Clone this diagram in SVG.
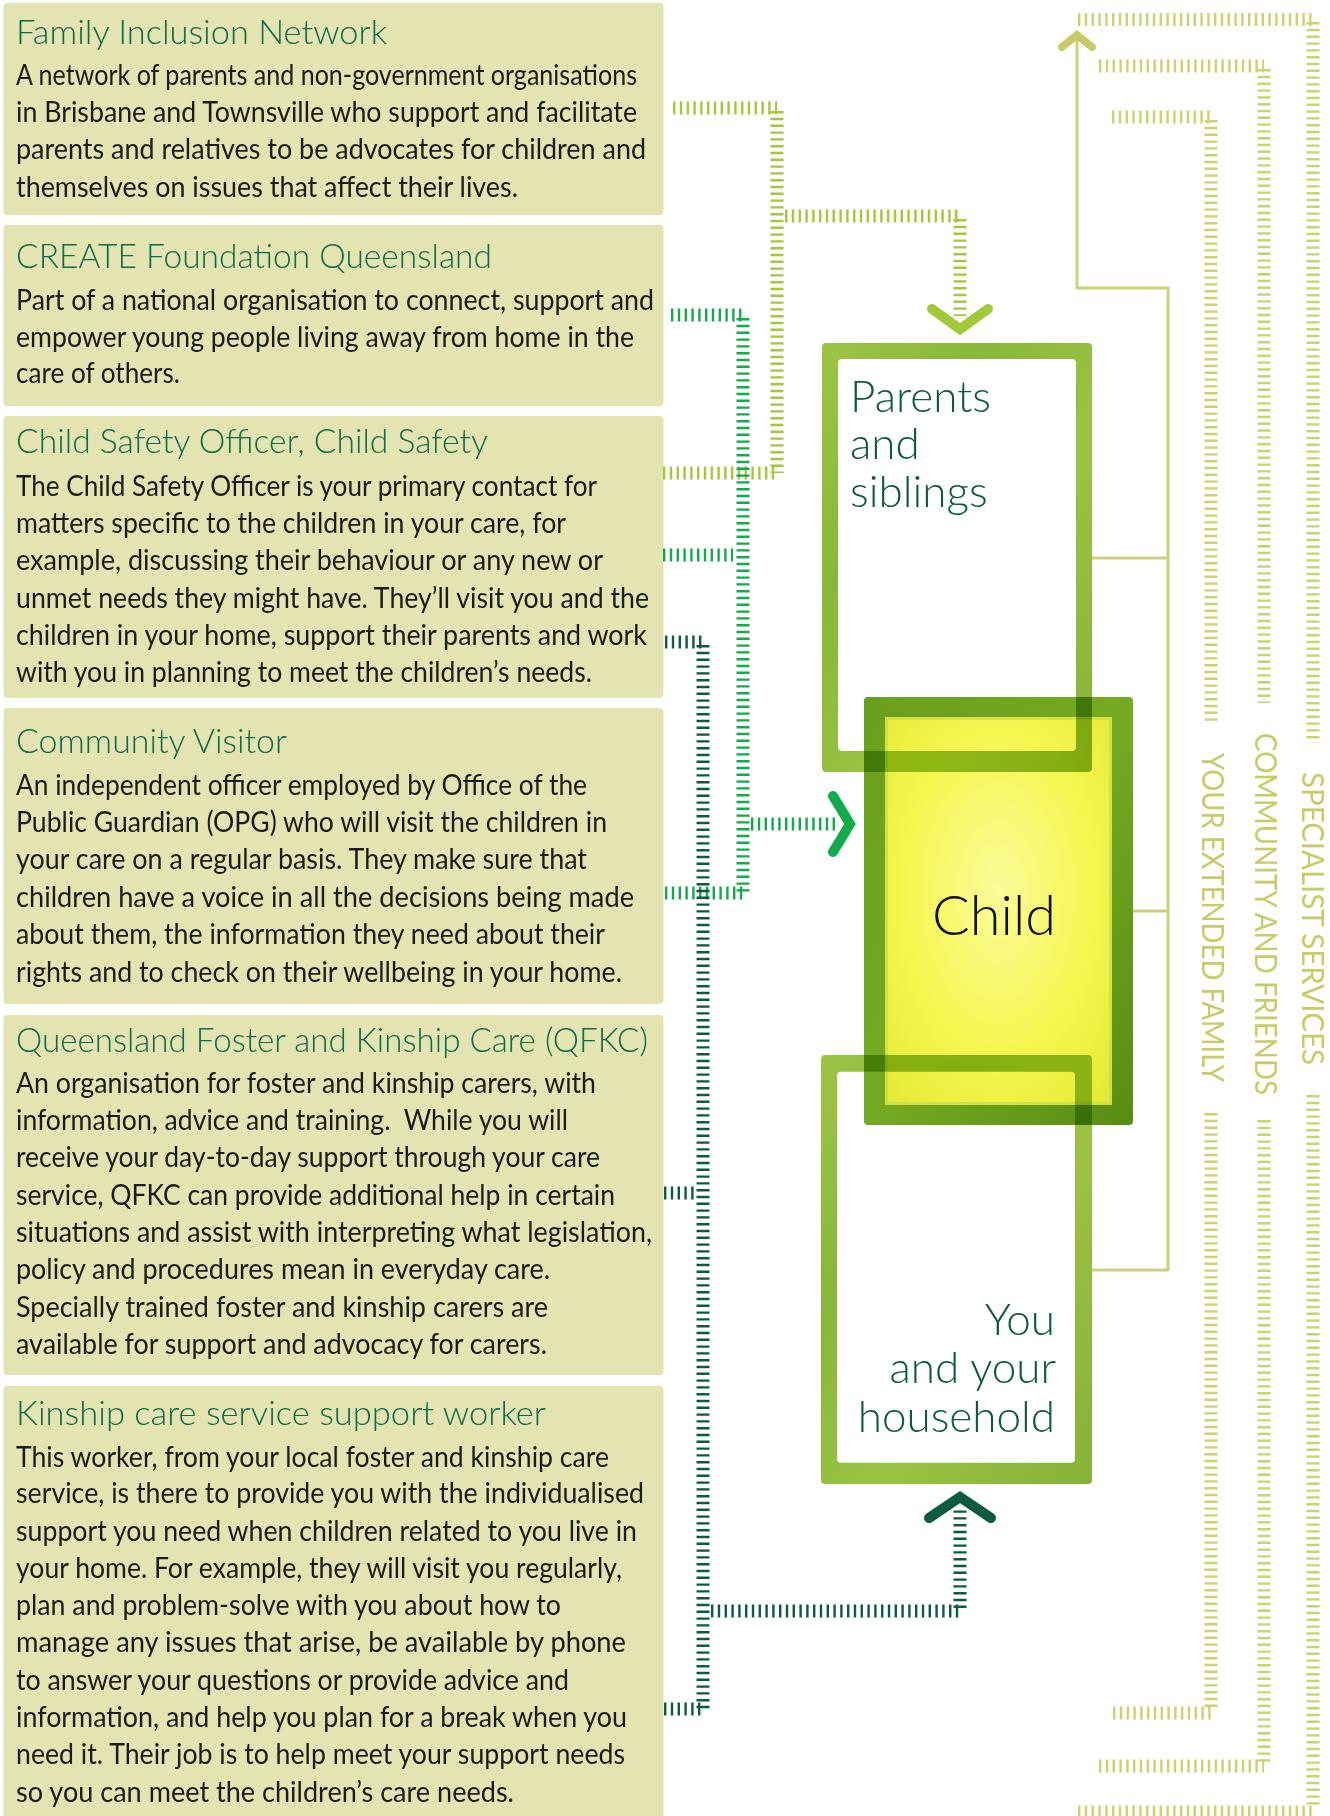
<svg xmlns="http://www.w3.org/2000/svg" width="1330" height="1816" viewBox="0 0 1330 1816">
<style>
.card{fill:#e3e4b1}
.ttl{font-family:Lato,"Open Sans","Liberation Sans",sans-serif;font-weight:300;font-size:34px;fill:#0e6a48}
.body{font-family:Lato,"Open Sans","Liberation Sans",sans-serif;font-size:28px;fill:#1b1b17}
.big{font-family:Lato,"Open Sans","Liberation Sans",sans-serif;font-weight:300;font-size:44px;fill:#0c5a3f}
.child{font-family:Lato,"Open Sans","Liberation Sans",sans-serif;font-weight:300;font-size:55px;fill:#111}
.side{font-family:Lato,"Open Sans","Liberation Sans",sans-serif;font-size:30px;fill:#cacb66}
.dl{fill:none;stroke-width:13;stroke-dasharray:2.4 4.4}
.ol{stroke:#cfd06e}
.lg{stroke:#a3c93a}
.mg{stroke:#12ab4b}
.dg{stroke:#0c5a3f}
.solid{fill:none;stroke:#cfd07a;stroke-width:3}
.chev{fill:none;stroke-linecap:round;stroke-linejoin:miter}
.frame{fill:url(#frameG);fill-rule:evenodd;mix-blend-mode:multiply}
</style>
<defs>
<linearGradient id="frameG" x1="0" y1="0" x2="1" y2="1">
<stop offset="0" stop-color="#9dc545"/>
<stop offset="0.3" stop-color="#8ab739"/>
<stop offset="0.6" stop-color="#9bc343"/>
<stop offset="1" stop-color="#86b237"/>
</linearGradient>
<linearGradient id="childFrame" x1="0" y1="0" x2="1" y2="1">
<stop offset="0" stop-color="#6a9e1c"/>
<stop offset="0.5" stop-color="#76aa22"/>
<stop offset="1" stop-color="#578d12"/>
</linearGradient>
<radialGradient id="childFill" cx="0.5" cy="0.45" r="0.75">
<stop offset="0" stop-color="#fbfb9a"/>
<stop offset="0.55" stop-color="#f6f650"/>
<stop offset="1" stop-color="#e3e832"/>
</radialGradient>
</defs>
<rect width="1330" height="1816" fill="#fff"/>

<g id="fin">
<rect class="card" x="3.5" y="3" width="660" height="212" rx="4"/>
<text class="ttl" x="16" y="44.3" textLength="371" lengthAdjust="spacingAndGlyphs">Family Inclusion Network</text>
<text class="body" x="16" y="85" textLength="621" lengthAdjust="spacingAndGlyphs">A network of parents and non-government organisations</text>
<text class="body" x="16" y="121.7" textLength="621" lengthAdjust="spacingAndGlyphs">in Brisbane and Townsville who support and facilitate</text>
<text class="body" x="16" y="159.3" textLength="630" lengthAdjust="spacingAndGlyphs">parents and relatives to be advocates for children and</text>
<text class="body" x="16" y="196.7" textLength="502" lengthAdjust="spacingAndGlyphs">themselves on issues that affect their lives.</text>
</g>

<g id="create">
<rect class="card" x="3.5" y="225" width="660" height="181" rx="4"/>
<text class="ttl" x="16" y="268.3" textLength="476" lengthAdjust="spacingAndGlyphs">CREATE Foundation Queensland</text>
<text class="body" x="16" y="310" textLength="638" lengthAdjust="spacingAndGlyphs">Part of a national organisation to connect, support and</text>
<text class="body" x="16" y="346.7" textLength="618" lengthAdjust="spacingAndGlyphs">empower young people living away from home in the</text>
<text class="body" x="16" y="383.3" textLength="164" lengthAdjust="spacingAndGlyphs">care of others.</text>
</g>

<g id="cso">
<rect class="card" x="3.5" y="416" width="660" height="282" rx="4"/>
<text class="ttl" x="16" y="453.3" textLength="472" lengthAdjust="spacingAndGlyphs">Child Safety Officer, Child Safety</text>
<text class="body" x="16" y="496" textLength="581" lengthAdjust="spacingAndGlyphs">The Child Safety Officer is your primary contact for</text>
<text class="body" x="16" y="533.3" textLength="550" lengthAdjust="spacingAndGlyphs">matters specific to the children in your care, for</text>
<text class="body" x="16" y="570" textLength="587" lengthAdjust="spacingAndGlyphs">example, discussing their behaviour or any new or</text>
<text class="body" x="16" y="608.3" textLength="633" lengthAdjust="spacingAndGlyphs">unmet needs they might have. They’ll visit you and the</text>
<text class="body" x="16" y="645" textLength="631" lengthAdjust="spacingAndGlyphs">children in your home, support their parents and work</text>
<text class="body" x="16" y="681.7" textLength="576" lengthAdjust="spacingAndGlyphs">with you in planning to meet the children’s needs.</text>
</g>

<g id="visitor">
<rect class="card" x="3.5" y="708" width="660" height="296" rx="4"/>
<text class="ttl" x="16" y="753.3" textLength="271" lengthAdjust="spacingAndGlyphs">Community Visitor</text>
<text class="body" x="16" y="795" textLength="571" lengthAdjust="spacingAndGlyphs">An independent officer employed by Office of the</text>
<text class="body" x="16" y="831.7" textLength="591" lengthAdjust="spacingAndGlyphs">Public Guardian (OPG) who will visit the children in</text>
<text class="body" x="16" y="869.3" textLength="571" lengthAdjust="spacingAndGlyphs">your care on a regular basis. They make sure that</text>
<text class="body" x="16" y="906.7" textLength="618" lengthAdjust="spacingAndGlyphs">children have a voice in all the decisions being made</text>
<text class="body" x="16" y="944.3" textLength="589" lengthAdjust="spacingAndGlyphs">about them, the information they need about their</text>
<text class="body" x="16" y="981.7" textLength="606" lengthAdjust="spacingAndGlyphs">rights and to check on their wellbeing in your home.</text>
</g>

<g id="qfkc">
<rect class="card" x="3.5" y="1015" width="660" height="360" rx="4"/>
<text class="ttl" x="16" y="1051.7" textLength="632" lengthAdjust="spacingAndGlyphs">Queensland Foster and Kinship Care (QFKC)</text>
<text class="body" x="16" y="1093.3" textLength="580" lengthAdjust="spacingAndGlyphs">An organisation for foster and kinship carers, with</text>
<text class="body" x="16" y="1130" textLength="552" lengthAdjust="spacingAndGlyphs" xml:space="preserve">information, advice and training.  While you will</text>
<text class="body" x="16" y="1167.3" textLength="584" lengthAdjust="spacingAndGlyphs">receive your day-to-day support through your care</text>
<text class="body" x="16" y="1205" textLength="599" lengthAdjust="spacingAndGlyphs">service, QFKC can provide additional help in certain</text>
<text class="body" x="16" y="1242.3" textLength="636" lengthAdjust="spacingAndGlyphs">situations and assist with interpreting what legislation,</text>
<text class="body" x="16" y="1279.3" textLength="534" lengthAdjust="spacingAndGlyphs">policy and procedures mean in everyday care.</text>
<text class="body" x="16" y="1316.7" textLength="532" lengthAdjust="spacingAndGlyphs">Specially trained foster and kinship carers are</text>
<text class="body" x="16" y="1354" textLength="531" lengthAdjust="spacingAndGlyphs">available for support and advocacy for carers.</text>
</g>

<g id="kinship">
<rect class="card" x="3.5" y="1386" width="660" height="440" rx="4"/>
<text class="ttl" x="16" y="1425" textLength="530" lengthAdjust="spacingAndGlyphs">Kinship care service support worker</text>
<text class="body" x="16" y="1466.7" textLength="593" lengthAdjust="spacingAndGlyphs">This worker, from your local foster and kinship care</text>
<text class="body" x="16" y="1503.3" textLength="628" lengthAdjust="spacingAndGlyphs">service, is there to provide you with the individualised</text>
<text class="body" x="16" y="1541" textLength="621" lengthAdjust="spacingAndGlyphs">support you need when children related to you live in</text>
<text class="body" x="16" y="1578.3" textLength="606" lengthAdjust="spacingAndGlyphs">your home. For example, they will visit you regularly,</text>
<text class="body" x="16" y="1615" textLength="545" lengthAdjust="spacingAndGlyphs">plan and problem-solve with you about how to</text>
<text class="body" x="16" y="1652.3" textLength="610" lengthAdjust="spacingAndGlyphs">manage any issues that arise, be available by phone</text>
<text class="body" x="16" y="1690" textLength="553" lengthAdjust="spacingAndGlyphs">to answer your questions or provide advice and</text>
<text class="body" x="16" y="1726.7" textLength="611" lengthAdjust="spacingAndGlyphs">information, and help you plan for a break when you</text>
<text class="body" x="16" y="1764.3" textLength="609" lengthAdjust="spacingAndGlyphs">need it. Their job is to help meet your support needs</text>
<text class="body" x="16" y="1801.7" textLength="498" lengthAdjust="spacingAndGlyphs">so you can meet the children’s care needs.</text>
</g>

<g id="connectors">
<path class="solid" d="M1077 40 V288 H1168 V1271"/>
<path class="solid" d="M1092 558 H1168 M1133 911 H1168 M1092 1270 H1168"/>
<path class="chev" stroke="#c9cb68" stroke-width="8" d="M1062 47 L1077 35 L1092 47"/>

<line class="dl ol" x1="1078" y1="19.5" x2="1313" y2="19.5"/>
<line class="dl ol" x1="1313" y1="22" x2="1313" y2="743"/>
<line class="dl ol" x1="1313" y1="1095" x2="1313" y2="1809"/>
<line class="dl ol" x1="1078" y1="1812" x2="1313" y2="1812"/>

<line class="dl ol" x1="1099" y1="66" x2="1264" y2="66"/>
<line class="dl ol" x1="1264" y1="69" x2="1264" y2="703"/>
<line class="dl ol" x1="1264" y1="1120" x2="1264" y2="1763"/>
<line class="dl ol" x1="1099" y1="1766" x2="1264" y2="1766"/>

<line class="dl ol" x1="1112" y1="117" x2="1211" y2="117"/>
<line class="dl ol" x1="1211" y1="120" x2="1211" y2="725"/>
<line class="dl ol" x1="1211" y1="1113" x2="1211" y2="1710"/>
<line class="dl ol" x1="1113" y1="1713" x2="1211" y2="1713"/>

<line class="dl lg" x1="673" y1="108" x2="777" y2="108"/>
<line class="dl lg" x1="777" y1="111" x2="777" y2="473"/>
<line class="dl lg" x1="663" y1="473" x2="777" y2="473"/>
<line class="dl lg" x1="785" y1="216" x2="960" y2="216"/>
<line class="dl lg" x1="960" y1="219" x2="960" y2="316"/>
<path class="chev" stroke="#a3c93a" stroke-width="10" d="M932 309 L960 329 L988 309"/>

<line class="dl mg" x1="671" y1="315" x2="743" y2="315"/>
<line class="dl mg" x1="743" y1="318" x2="743" y2="893"/>
<line class="dl mg" x1="663" y1="555" x2="733" y2="555"/>
<line class="dl mg" x1="665" y1="893" x2="743" y2="893"/>
<line class="dl mg" x1="751" y1="824" x2="838" y2="824"/>
<path class="chev" stroke="#12ab4b" stroke-width="10" d="M833 796 L850 824 L833 852"/>

<line class="dl dg" x1="665" y1="642" x2="703" y2="642"/>
<line class="dl dg" x1="703" y1="645" x2="703" y2="1709"/>
<line class="dl dg" x1="664" y1="1193" x2="697" y2="1193"/>
<line class="dl dg" x1="664" y1="1709" x2="703" y2="1709"/>
<line class="dl dg" x1="711" y1="1611" x2="960" y2="1611"/>
<line class="dl dg" x1="960" y1="1608" x2="960" y2="1510"/>
<path class="chev" stroke="#0c5a3f" stroke-width="10" d="M929 1518 L960 1497 L991 1518"/>
</g>

<g id="labels">
<text class="side" transform="translate(1202,753) rotate(90)" textLength="329" lengthAdjust="spacingAndGlyphs">YOUR EXTENDED FAMILY</text>
<text class="side" transform="translate(1255,733) rotate(90)" textLength="362" lengthAdjust="spacingAndGlyphs">COMMUNITY AND FRIENDS</text>
<text class="side" transform="translate(1302,772) rotate(90)" textLength="293" lengthAdjust="spacingAndGlyphs">SPECIALIST SERVICES</text>
</g>

<rect x="838" y="359" width="238" height="392" rx="4" fill="#fff"/>
<rect x="837" y="1071.7" width="238" height="391" rx="4" fill="#fff"/>

<g id="child">
<rect x="864" y="697" width="269" height="428" rx="4" fill="url(#childFrame)"/>
<rect x="885" y="717" width="227" height="388" fill="url(#childFill)"/>
<rect x="886.5" y="718.5" width="224" height="385" fill="none" stroke="#c8dc46" stroke-width="3" opacity="0.7"/>
<text class="child" x="932" y="935" textLength="124" lengthAdjust="spacingAndGlyphs">Child</text>
</g>

<g id="parents">
<path class="frame" d="M826 343 H1088 Q1092 343 1092 347 V768 Q1092 772 1088 772 H826 Q822 772 822 768 V347 Q822 343 826 343 Z M842 359 Q838 359 838 363 V747 Q838 751 842 751 H1072 Q1076 751 1076 747 V363 Q1076 359 1072 359 Z"/>
<text class="big" x="850" y="411.7">Parents</text>
<text class="big" x="850" y="459">and</text>
<text class="big" x="850" y="506.7">siblings</text>
</g>

<g id="you">
<path class="frame" d="M825 1055 H1088 Q1092 1055 1092 1059 V1480 Q1092 1484 1088 1484 H825 Q821 1484 821 1480 V1059 Q821 1055 825 1055 Z M841 1071.7 Q837 1071.7 837 1075.7 V1458.7 Q837 1462.7 841 1462.7 H1071 Q1075 1462.7 1075 1458.7 V1075.7 Q1075 1071.7 1071 1071.7 Z"/>
<text class="big" x="1055" y="1335" text-anchor="end">You</text>
<text class="big" x="1056" y="1383.3" text-anchor="end">and your</text>
<text class="big" x="1055" y="1431.7" text-anchor="end">household</text>
</g>
</svg>
